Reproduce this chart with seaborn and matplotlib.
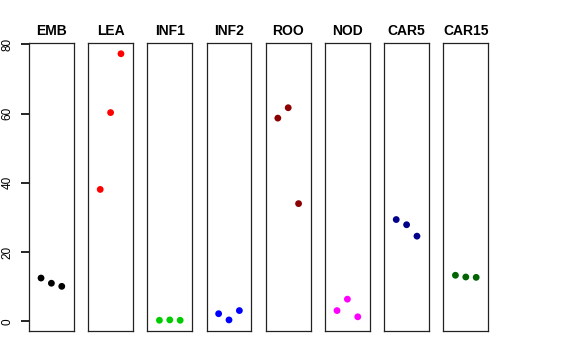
import matplotlib
matplotlib.use("Agg")
import matplotlib.pyplot as plt
import seaborn as sns
import pandas as pd

tissues = ["EMB", "LEA", "INF1", "INF2", "ROO", "NOD", "CAR5", "CAR15"]
replicate = [1, 2, 3]
values = {
    "EMB":   [12.5, 11.0, 10.1],
    "LEA":   [38.1, 60.3, 77.3],
    "INF1":  [0.3, 0.4, 0.3],
    "INF2":  [2.2, 0.4, 3.1],
    "ROO":   [58.7, 61.7, 34.0],
    "NOD":   [3.1, 6.4, 1.3],
    "CAR5":  [29.4, 27.9, 24.6],
    "CAR15": [13.3, 12.8, 12.7],
}
colors = ["#000000", "#FF0000", "#00CD00", "#0000FF", "#8B0000", "#FF00FF", "#00008B", "#006400"]
yticks = [0, 20, 40, 60, 80]

rows = []
for t in tissues:
    for r, v in zip(replicate, values[t]):
        rows.append({"tissue": t, "rep": r, "value": v})
df = pd.DataFrame(rows)

sns.set_style("ticks", {"ytick.left": True, "ytick.direction": "out"})
plt.rcParams["font.family"] = ["Liberation Sans", "DejaVu Sans"]
plt.rcParams["text.color"] = "black"
plt.rcParams["ytick.major.size"] = 6
plt.rcParams["ytick.major.width"] = 1.2
plt.rcParams["ytick.color"] = "black"

fig = plt.figure(figsize=(5.76, 3.6), dpi=100)
W, H = 576.0, 360.0
left0, step, pw = 29.0, 59.2, 44.8
top, bottom = 43.0, 331.0

for i, (t, c) in enumerate(zip(tissues, colors)):
    ax = fig.add_axes([(left0 + i * step) / W, (H - bottom) / H, pw / W, (bottom - top) / H])
    sub = df[df["tissue"] == t]
    sns.scatterplot(data=sub, x="rep", y="value", color=c, s=24, edgecolor="none", ax=ax, legend=False)
    ax.set_xlim(-0.16, 4.16)
    ax.set_ylim(-2.8, 80.4)
    ax.set_xticks([])
    ax.set_xlabel("")
    ax.set_ylabel("")
    ax.set_title(t, fontsize=10, fontweight="bold", pad=6, color="black")
    for s in ax.spines.values():
        s.set_visible(True)
        s.set_color("#222222")
        s.set_linewidth(0.9)
    if i == 0:
        ax.yaxis.set_ticks_position("left")
        ax.set_yticks(yticks)
        ax.set_yticklabels([str(v) for v in yticks], rotation=90, va="center", fontsize=8.5, color="black")
        ax.tick_params(axis="y", pad=5)
    else:
        ax.set_yticks([])

fig.savefig("out.png", dpi=100)
